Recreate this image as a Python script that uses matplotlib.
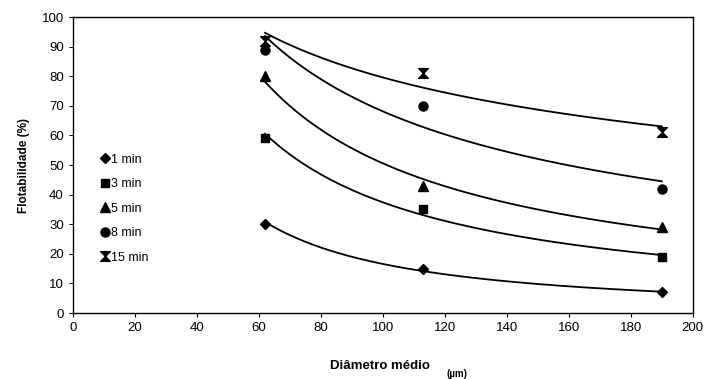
import matplotlib
matplotlib.use('Agg')
import matplotlib.pyplot as plt
from matplotlib.path import Path
import numpy as np

plt.rcParams['font.family'] = ['Liberation Sans', 'DejaVu Sans']

# data
diametro = [62, 113, 190]
series_labels = ['1 min', '3 min', '5 min', '8 min', '15 min']
flot_1 = [30, 15, 7]
flot_3 = [59, 35, 19]
flot_5 = [80, 43, 29]
flot_8 = [89, 70, 42]
flot_15 = [92, 81, 61]

# hourglass marker (Excel style "X")
hourglass = Path([(-1, 1), (1, 1), (0, 0), (-1, 1),
                  (-1, -1), (1, -1), (0, 0), (-1, -1)],
                 [Path.MOVETO, Path.LINETO, Path.LINETO, Path.CLOSEPOLY,
                  Path.MOVETO, Path.LINETO, Path.LINETO, Path.CLOSEPOLY])

markers = ['D', 's', '^', 'o', hourglass]
sizes = [5, 6, 7, 6.5, 7]
all_series = [flot_1, flot_3, flot_5, flot_8, flot_15]

fig = plt.figure(figsize=(7.07, 3.79), dpi=100)
ax = fig.add_axes([0.103, 0.174, 0.877, 0.781])

x = np.array(diametro, dtype=float)
xs = np.linspace(x.min(), x.max(), 200)
for vals, mk, ms, lab in zip(all_series, markers, sizes, series_labels):
    y = np.array(vals, dtype=float)
    # power-law trendline
    b, lna = np.polyfit(np.log(x), np.log(y), 1)
    ax.plot(xs, np.exp(lna) * xs ** b, color='black', lw=1.3, zorder=2)
    ax.plot(x, y, linestyle='none', marker=mk, markersize=ms,
            color='black', label=lab, zorder=3)

ax.set_xlim(0, 200)
ax.set_ylim(0, 100)
ax.set_xticks(range(0, 201, 20))
ax.set_yticks(range(0, 101, 10))
ax.tick_params(direction='out', length=3, width=0.8, labelsize=9.5)
for s in ax.spines.values():
    s.set_linewidth(1.0)

ax.set_ylabel('Flotabilidade (%)', fontsize=8.5, fontweight='bold', labelpad=8)
fig.text(0.538, 0.034, 'Diâmetro médio', fontsize=9.5, fontweight='bold',
         ha='center', va='center')
fig.text(0.632, 0.014, '(µm)', fontsize=7, fontweight='bold',
         ha='left', va='center')

ax.legend(loc='upper left', bbox_to_anchor=(0.035, 0.555), frameon=False,
          fontsize=9, handletextpad=0.15, handlelength=0.8,
          labelspacing=1.0, borderaxespad=0)

fig.savefig('out.png', dpi=100, facecolor='white')
